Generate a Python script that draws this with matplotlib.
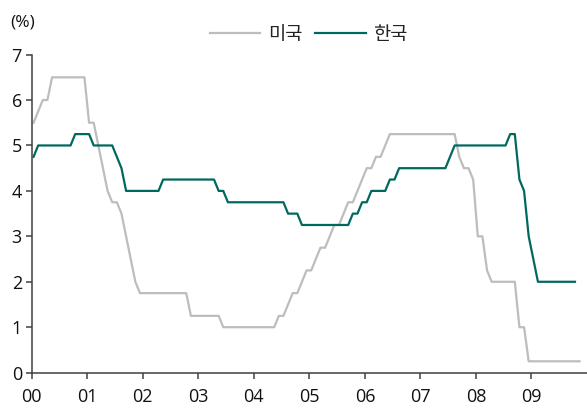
import numpy as np
import matplotlib
matplotlib.use("Agg")
import matplotlib.pyplot as plt

plt.rcParams['font.family'] = ['Open Sans', 'Noto Sans CJK KR', 'DejaVu Sans']

# ============================================================
# DATA (month-end policy rates, %)
# ============================================================
us_rate = [
    5.5, 5.75, 6.0, 6.0, 6.5, 6.5, 6.5, 6.5, 6.5, 6.5, 6.5, 6.5,          # 2000
    5.5, 5.5, 5.0, 4.5, 4.0, 3.75, 3.75, 3.5, 3.0, 2.5, 2.0, 1.75,        # 2001
    1.75, 1.75, 1.75, 1.75, 1.75, 1.75, 1.75, 1.75, 1.75, 1.75, 1.25, 1.25,  # 2002
    1.25, 1.25, 1.25, 1.25, 1.25, 1.0, 1.0, 1.0, 1.0, 1.0, 1.0, 1.0,      # 2003
    1.0, 1.0, 1.0, 1.0, 1.0, 1.25, 1.25, 1.5, 1.75, 1.75, 2.0, 2.25,      # 2004
    2.25, 2.5, 2.75, 2.75, 3.0, 3.25, 3.25, 3.5, 3.75, 3.75, 4.0, 4.25,   # 2005
    4.5, 4.5, 4.75, 4.75, 5.0, 5.25, 5.25, 5.25, 5.25, 5.25, 5.25, 5.25,  # 2006
    5.25, 5.25, 5.25, 5.25, 5.25, 5.25, 5.25, 5.25, 4.75, 4.5, 4.5, 4.25,  # 2007
    3.0, 3.0, 2.25, 2.0, 2.0, 2.0, 2.0, 2.0, 2.0, 1.0, 1.0, 0.25,         # 2008
    0.25, 0.25, 0.25, 0.25, 0.25, 0.25, 0.25, 0.25, 0.25, 0.25, 0.25,     # 2009 (Jan-Nov)
]

kr_rate = [
    4.75, 5.0, 5.0, 5.0, 5.0, 5.0, 5.0, 5.0, 5.0, 5.25, 5.25, 5.25,       # 2000
    5.25, 5.0, 5.0, 5.0, 5.0, 5.0, 4.75, 4.5, 4.0, 4.0, 4.0, 4.0,         # 2001
    4.0, 4.0, 4.0, 4.0, 4.25, 4.25, 4.25, 4.25, 4.25, 4.25, 4.25, 4.25,   # 2002
    4.25, 4.25, 4.25, 4.25, 4.0, 4.0, 3.75, 3.75, 3.75, 3.75, 3.75, 3.75,  # 2003
    3.75, 3.75, 3.75, 3.75, 3.75, 3.75, 3.75, 3.5, 3.5, 3.5, 3.25, 3.25,  # 2004
    3.25, 3.25, 3.25, 3.25, 3.25, 3.25, 3.25, 3.25, 3.25, 3.5, 3.5, 3.75,  # 2005
    3.75, 4.0, 4.0, 4.0, 4.0, 4.25, 4.25, 4.5, 4.5, 4.5, 4.5, 4.5,        # 2006
    4.5, 4.5, 4.5, 4.5, 4.5, 4.5, 4.75, 5.0, 5.0, 5.0, 5.0, 5.0,          # 2007
    5.0, 5.0, 5.0, 5.0, 5.0, 5.0, 5.0, 5.25, 5.25, 4.25, 4.0, 3.0,        # 2008
    2.5, 2.0, 2.0, 2.0, 2.0, 2.0, 2.0, 2.0, 2.0, 2.0,                     # 2009 (Jan-Oct)
]

year_labels = ['00', '01', '02', '03', '04', '05', '06', '07', '08', '09']

# x in years since Jan 2000
x_us = (np.arange(len(us_rate)) + 0.4) / 12
x_kr = (np.arange(len(kr_rate)) + 0.4) / 12

# ============================================================
# VISUALISASI
# ============================================================
fig = plt.figure(figsize=(5.87, 4.12), dpi=100)
ax = fig.add_axes([0.054, 0.0955, 0.946, 0.772])

ax.plot(x_us, us_rate, color='#BDBDBD', linewidth=1.6, label='미국')
ax.plot(x_kr, kr_rate, color='#00695E', linewidth=1.6, label='한국')

ax.set_xlim(0, 10)
ax.set_ylim(0, 7)
ax.set_xticks(np.arange(len(year_labels)))
ax.set_xticklabels(year_labels)
ax.set_yticks(np.arange(0, 8))

for side in ['top', 'right']:
    ax.spines[side].set_visible(False)
for side in ['left', 'bottom']:
    ax.spines[side].set_color('#404040')
    ax.spines[side].set_linewidth(1.1)

ax.tick_params(axis='both', direction='out', length=4, width=1.1, color='#404040',
               labelsize=13, labelcolor='#111111')
ax.tick_params(axis='x', pad=7)
ax.tick_params(axis='y', pad=3)

fig.text(0.018, 0.945, '(%)', fontsize=12.5, color='#111111', va='center', ha='left')

leg = fig.legend(loc='center', bbox_to_anchor=(0.526, 0.915), ncol=2, frameon=False,
                 fontsize=13.5, handlelength=2.7, handletextpad=0.4, columnspacing=0.7)
for t in leg.get_texts():
    t.set_color('#222222')

fig.savefig('out.png', dpi=100)
